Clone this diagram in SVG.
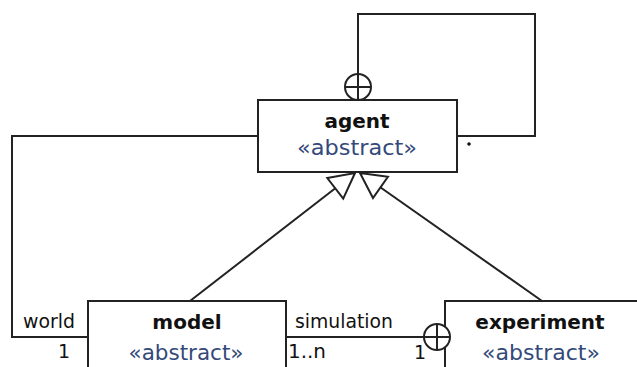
<svg xmlns="http://www.w3.org/2000/svg" width="637" height="367" viewBox="0 0 637 367">
  <style>
    .box { fill: #ffffff; stroke: #222222; stroke-width: 2; }
    .line { fill: none; stroke: #222222; stroke-width: 2; }
    .name { font-family: "DejaVu Sans", "Liberation Sans", sans-serif; font-weight: bold; font-size: 20px; fill: #111111; text-anchor: middle; }
    .stereo { font-family: "DejaVu Sans", "Liberation Sans", sans-serif; font-size: 21px; fill: #34497a; text-anchor: middle; }
    .label { font-family: "DejaVu Sans", "Liberation Sans", sans-serif; font-size: 19px; fill: #111111; }
    .own { fill: #ffffff; stroke: #222222; stroke-width: 2; }
  </style>
  <defs>
    <!-- hollow generalization head -->
    <marker id="gen" markerUnits="userSpaceOnUse" markerWidth="30" markerHeight="32" viewBox="-2 -16 30 32" refX="25" refY="0" orient="auto">
      <path d="M0,-13 L25,0 L0,13 Z" fill="#ffffff" stroke="#222222" stroke-width="2" stroke-linejoin="miter"/>
    </marker>
  </defs>

  <g id="connectors">
    <!-- agent self-association loop -->
    <path class="line" d="M358,74 V14 H535 V136 H457"/>
    <!-- world association -->
    <path class="line" d="M258,136 H12 V337 H88"/>
    <!-- simulation association -->
    <path class="line" d="M286,337 H445"/>
    <!-- generalizations to agent -->
    <path class="line" d="M190,301 L355,173" marker-end="url(#gen)"/>
    <path class="line" d="M542,301 L360,173" marker-end="url(#gen)"/>
  </g>

  <g id="agent">
    <rect class="box" x="258" y="100" width="199" height="72"/>
    <text class="name" x="357" y="128">agent</text>
    <text class="stereo" x="357" y="155" textLength="120" lengthAdjust="spacingAndGlyphs">«abstract»</text>
  </g>

  <g id="model">
    <rect class="box" x="88" y="301" width="198" height="80"/>
    <text class="name" x="187" y="329">model</text>
    <text class="stereo" x="186" y="360" textLength="115" lengthAdjust="spacingAndGlyphs">«abstract»</text>
  </g>

  <g id="experiment">
    <rect class="box" x="445" y="301" width="200" height="80"/>
    <text class="name" x="540" y="329">experiment</text>
    <text class="stereo" x="541" y="360" textLength="118" lengthAdjust="spacingAndGlyphs">«abstract»</text>
  </g>

  <g id="ownership">
    <!-- containment symbol on agent top -->
    <circle class="own" cx="358" cy="87" r="13"/>
    <path class="line" d="M358,74 V100 M345,87 H371"/>
    <!-- containment symbol at experiment -->
    <circle class="own" cx="437" cy="337" r="13"/>
    <path class="line" d="M437,324 V350 M424,337 H450"/>
  </g>

  <g id="labels">
    <text class="label" x="23" y="328" textLength="52" lengthAdjust="spacingAndGlyphs">world</text>
    <text class="label" x="70" y="358" text-anchor="end" font-size="17">1</text>
    <text class="label" x="295" y="328" textLength="98" lengthAdjust="spacingAndGlyphs">simulation</text>
    <text class="label" x="288" y="358" font-size="17" textLength="38" lengthAdjust="spacingAndGlyphs">1..n</text>
    <text class="label" x="426" y="359" text-anchor="end" font-size="17">1</text>
    <circle cx="469" cy="144" r="1.8" fill="#111111"/>
  </g>
</svg>
